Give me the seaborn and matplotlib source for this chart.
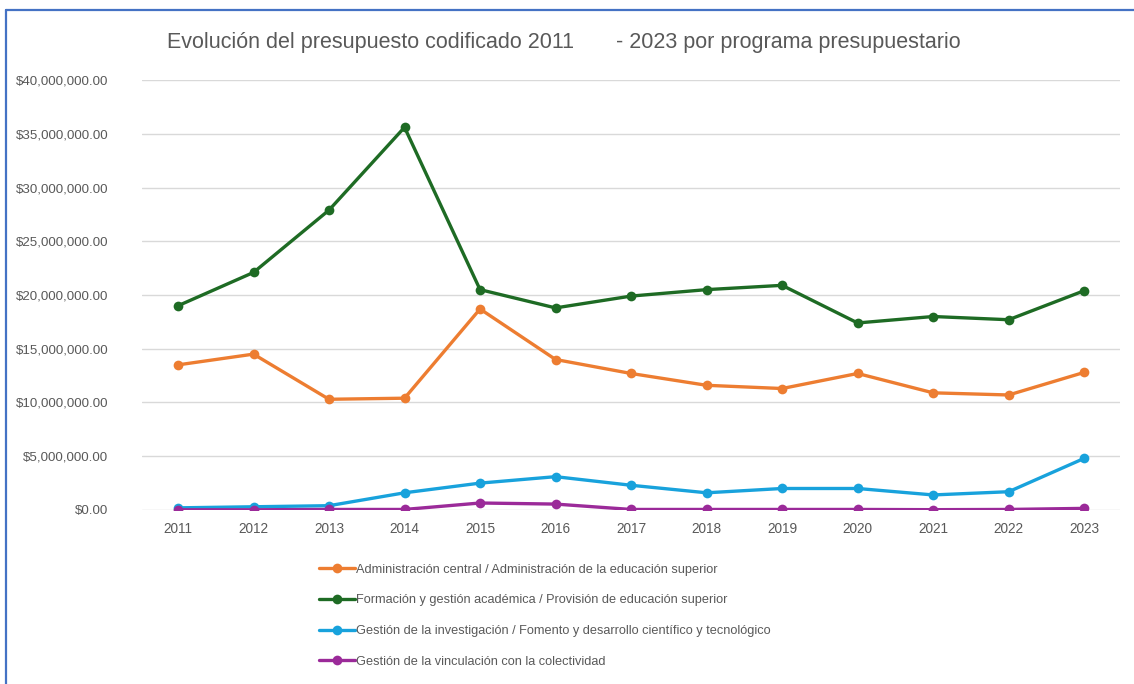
import matplotlib
matplotlib.use("Agg")
import matplotlib.pyplot as plt
from matplotlib.lines import Line2D
from matplotlib.ticker import FuncFormatter
import pandas as pd
import seaborn as sns

# datos (USD)
years = list(range(2011, 2024))
admin_central = [13.5e6, 14.5e6, 10.3e6, 10.4e6, 18.7e6, 14.0e6, 12.7e6,
                 11.6e6, 11.3e6, 12.7e6, 10.9e6, 10.7e6, 12.8e6]
formacion = [19.0e6, 22.1e6, 27.9e6, 35.6e6, 20.5e6, 18.8e6, 19.9e6,
             20.5e6, 20.9e6, 17.4e6, 18.0e6, 17.7e6, 20.4e6]
investigacion = [0.2e6, 0.3e6, 0.4e6, 1.6e6, 2.5e6, 3.1e6, 2.3e6,
                 1.6e6, 2.0e6, 2.0e6, 1.4e6, 1.7e6, 4.8e6]
vinculacion = [0.02e6, 0.02e6, 0.05e6, 0.05e6, 0.65e6, 0.55e6, 0.05e6,
               0.05e6, 0.05e6, 0.05e6, 0.03e6, 0.05e6, 0.15e6]

series_names = [
    "Administración central / Administración de la educación superior",
    "Formación y gestión académica / Provisión de educación superior",
    "Gestión de la investigación / Fomento y desarrollo científico y tecnológico",
    "Gestión de la vinculación con la colectividad",
]
colors = ["#ED7D31", "#1E6B24", "#18A2DC", "#9B2A99"]

frames = []
for name, vals in zip(series_names, [admin_central, formacion, investigacion, vinculacion]):
    frames.append(pd.DataFrame({"anio": years, "valor": vals, "programa": name}))
df = pd.concat(frames, ignore_index=True)

sns.set_theme(style="white")
plt.rcParams["font.family"] = ["Liberation Sans Narrow", "Liberation Sans", "DejaVu Sans"]

fig = plt.figure(figsize=(11.34, 6.84), dpi=100)
ax = fig.add_axes([0.125, 0.2544, 0.863, 0.6286])

sns.lineplot(data=df, x="anio", y="valor", hue="programa", hue_order=series_names,
             palette=colors, marker="o", markersize=7, markeredgewidth=0,
             linewidth=2.4, legend=False, ax=ax)

ax.set_ylim(0, 40e6)
ax.set_xlim(2010.52, 2023.48)
ax.set_yticks([i * 5e6 for i in range(9)])
ax.set_xticks(years)
ax.yaxis.set_major_formatter(FuncFormatter(lambda v, p: f"${v:,.2f}"))
ax.grid(axis="y", color="#D9D9D9", linewidth=1)
ax.grid(axis="x", visible=False)
ax.set_axisbelow(True)
for s in ax.spines.values():
    s.set_visible(False)
ax.tick_params(axis="y", length=0, pad=24, labelsize=9.6, labelcolor="#595959")
ax.tick_params(axis="x", length=0, pad=9, labelsize=9.8, labelcolor="#595959")
ax.set_xlabel("")
ax.set_ylabel("")

fig.text(0.497, 0.938, "Evolución del presupuesto codificado 2011       - 2023 por programa presupuestario",
         ha="center", va="center", fontsize=15.5, color="#595959")

handles = [Line2D([0], [0], color=c, linewidth=2.4, marker="o", markersize=7,
                  markeredgewidth=0) for c in colors]
fig.legend(handles, series_names, loc="upper left", bbox_to_anchor=(0.277, 0.183),
           frameon=False, fontsize=9.2, labelcolor="#595959", handlelength=2.8,
           handletextpad=0.1, labelspacing=1.45, borderaxespad=0)

# marco azul del recorte
fig.add_artist(Line2D([0.005, 1.0], [0.986, 0.986], color="#4472C4", linewidth=1.6,
                      transform=fig.transFigure))
fig.add_artist(Line2D([0.0055, 0.0055], [0.0, 0.986], color="#4472C4", linewidth=1.6,
                      transform=fig.transFigure))

fig.savefig("out.png", dpi=100)
